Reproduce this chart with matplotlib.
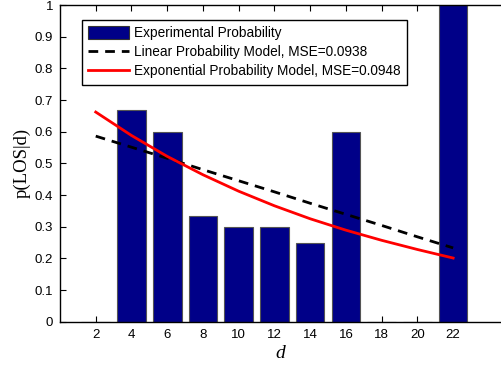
import matplotlib
matplotlib.use("Agg")
import matplotlib.pyplot as plt
from matplotlib.patches import Patch
from matplotlib.lines import Line2D

distances = [2, 4, 6, 8, 10, 12, 14, 16, 18, 20, 22]
experimental = [0.0, 0.667, 0.6, 0.333, 0.3, 0.3, 0.25, 0.6, 0.0, 0.0, 1.0]
linear_model = [0.586, 0.551, 0.516, 0.480, 0.445, 0.410, 0.374, 0.339, 0.304, 0.268, 0.233]
exp_model = [0.662, 0.588, 0.522, 0.464, 0.412, 0.366, 0.325, 0.289, 0.257, 0.228, 0.201]
x_ticks = [2, 4, 6, 8, 10, 12, 14, 16, 18, 20, 22]
y_ticks = [0, 0.1, 0.2, 0.3, 0.4, 0.5, 0.6, 0.7, 0.8, 0.9, 1]
y_tick_labels = ["0", "0.1", "0.2", "0.3", "0.4", "0.5", "0.6", "0.7", "0.8", "0.9", "1"]
legend_labels = ["Experimental Probability",
                 "Linear Probability Model, MSE=0.0938",
                 "Exponential Probability Model, MSE=0.0948"]

plt.rcParams['font.family'] = ['Liberation Sans', 'DejaVu Sans']

fig = plt.figure(figsize=(5.01, 3.67), dpi=100)
ax = fig.add_axes([60 / 501, 1 - 321.7 / 367, 441 / 501, 316.7 / 367])

ax.bar(distances, experimental, width=1.6, color="#000088", edgecolor="#555555", linewidth=0.8, zorder=2)
ax.plot(distances, linear_model, color="black", linestyle=(0, (3.5, 2.5)), linewidth=2, zorder=3)
ax.plot(distances, exp_model, color="red", linewidth=2, zorder=3)

ax.set_xlim(0, 441 / 17.87)
ax.set_ylim(0, 1)
ax.set_xticks(x_ticks)
ax.set_xticklabels([str(t) for t in x_ticks])
ax.set_yticks(y_ticks)
ax.set_yticklabels(y_tick_labels)
ax.tick_params(direction="in", length=4, width=0.8, labelsize=9.5, top=True, right=False, pad=5)
for s in ["left", "bottom", "top"]:
    ax.spines[s].set_linewidth(1.0)
ax.spines["right"].set_visible(False)

ax.set_ylabel("p(LOS|d)", family=["Liberation Serif", "DejaVu Serif"], fontsize=13.5, labelpad=3)
ax.set_xlabel("d", family=["Liberation Serif", "DejaVu Serif"], style="italic", fontsize=14, labelpad=3)

handles = [Patch(facecolor="#000088", edgecolor="#333333", linewidth=0.8),
           Line2D([], [], color="black", linestyle=(0, (3.5, 2.5)), linewidth=2),
           Line2D([], [], color="red", linewidth=2)]
leg = ax.legend(handles, legend_labels, loc="upper left", bbox_to_anchor=(22.3 / 441, 1 - 15 / 316.7),
                fontsize=9.8, frameon=True, fancybox=False, edgecolor="black", framealpha=1,
                handlelength=3.0, handleheight=1.0, handletextpad=0.35, labelspacing=0.38,
                borderpad=0.45, borderaxespad=0)
leg.get_frame().set_linewidth(1.0)

fig.savefig("out.png", dpi=100)
